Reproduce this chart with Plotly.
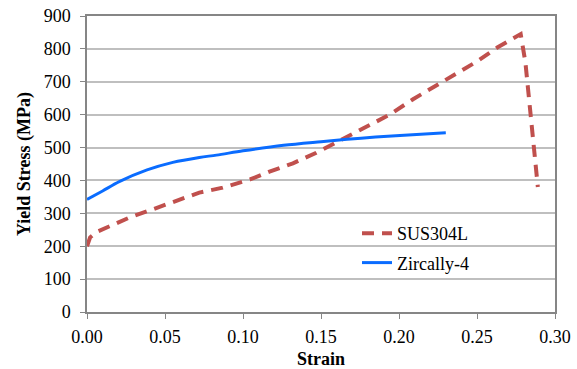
import plotly.graph_objects as go

# SUS304L yield stress vs strain
sus_strain = [0.000, 0.002, 0.006, 0.0115, 0.020, 0.0276, 0.042, 0.062, 0.072, 0.087,
              0.1045, 0.117, 0.132, 0.147, 0.160, 0.177, 0.194, 0.209, 0.231, 0.250,
              0.263, 0.272, 0.278, 0.281, 0.285, 0.289]
sus_stress = [200, 227, 243, 254, 272, 288, 312, 348, 363, 378,
              403, 427, 452, 484, 516, 555, 600, 647, 707, 762,
              804, 830, 845, 760, 570, 380]

# Zircally-4 yield stress vs strain
zr_strain = [0.000, 0.010, 0.021, 0.0385, 0.055, 0.072, 0.083, 0.100, 0.126, 0.150,
             0.1667, 0.185, 0.2006, 0.230]
zr_stress = [342, 368, 397, 432, 455, 470, 477, 490, 507, 518,
             525, 532, 537, 545]

fig = go.Figure()
fig.add_trace(go.Scatter(x=sus_strain, y=sus_stress, mode="lines", name="SUS304L",
                         line=dict(color="#C0504D", width=4, dash="12px,8px"),
                         legendgroup="a"))
fig.add_trace(go.Scatter(x=zr_strain, y=zr_stress, mode="lines", name="Zircally-4",
                         line=dict(color="#0A6CFF", width=3, shape="spline", smoothing=0.9),
                         legendgroup="b"))

# plot-area edges in page pixels
L, R, T, B = 87, 555, 16, 312
W, H = 577, 369
PW, PH = R - L, B - T

def px(xp):
    return (xp - L) / PW

def py(yp):
    return (B - yp) / PH

fig.add_shape(type="rect", xref="paper", yref="paper",
              x0=px(332), x1=px(500), y0=py(281), y1=py(213),
              fillcolor="white", line=dict(width=0), layer="between")

font_family = "Liberation Serif, DejaVu Serif, serif"
fig.update_layout(
    width=W, height=H,
    margin=dict(l=L, r=W - R, t=T, b=H - B),
    paper_bgcolor="white", plot_bgcolor="white",
    font=dict(family=font_family, size=18, color="#000000"),
    showlegend=True,
    legend=dict(x=px(357), y=py(215), xanchor="left", yanchor="top",
                bgcolor="rgba(0,0,0,0)", borderwidth=0, font=dict(size=18),
                tracegroupgap=3, traceorder="grouped"),
    xaxis=dict(range=[0, 0.30], dtick=0.05, tickformat=".2f", showgrid=False,
               ticks="outside", ticklen=5, tickcolor="#868686",
               ticklabelstandoff=3, ticklabeloverflow="allow",
               showline=True, linecolor="#868686", linewidth=1.5, mirror=True,
               zeroline=False, automargin=False,
               title=dict(text="<b>Strain</b>", font=dict(size=18), standoff=12)),
    yaxis=dict(range=[0, 900], dtick=100, showgrid=True, gridcolor="#BFBFBF", gridwidth=1.5,
               ticks="outside", ticklen=5, tickcolor="#868686",
               ticklabelstandoff=6, ticklabeloverflow="allow",
               showline=True, linecolor="#868686", linewidth=1.5, mirror=True,
               zeroline=False, automargin=False,
               title=dict(text="<b>Yield Stress (MPa)</b>", font=dict(size=18), standoff=8)),
)

fig.write_html("out.html", config={"displayModeBar": False},
               post_script="document.body.style.margin='0';")
